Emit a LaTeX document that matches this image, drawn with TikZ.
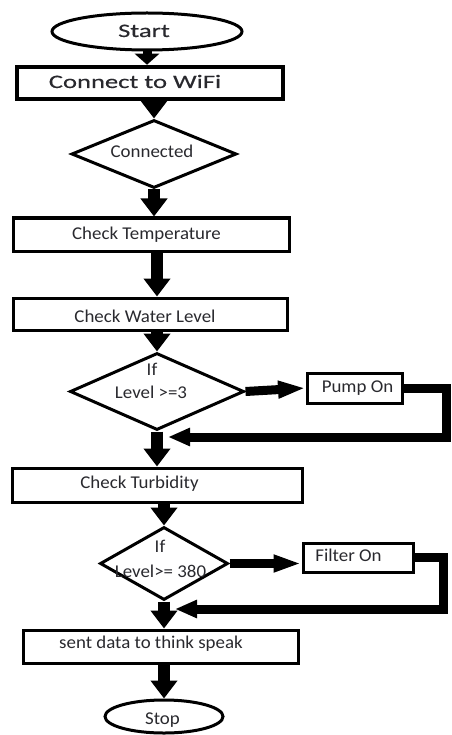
\documentclass[tikz,border=0pt]{standalone}
\usepackage{fontspec}
\setmainfont{Carlito}[FakeStretch=1.05]
\newfontfamily\headfont{Carlito}[FakeStretch=1.4,FakeBold=0.4]
\usetikzlibrary{shapes.geometric,arrows.meta}
\definecolor{ink}{rgb}{0.16,0.16,0.18}

\begin{document}
\begin{tikzpicture}[x=1pt,y=-1pt,
  proc/.style={draw, line width=3pt, rectangle, inner sep=0pt},
  term/.style={draw, line width=3pt, ellipse, inner sep=0pt},
  dec/.style={draw, line width=3pt, diamond, inner sep=0pt},
  txt/.style={inner sep=0pt, anchor=base, text=ink, font=\fontsize{18}{22}\selectfont},
  headtxt/.style={txt, font=\headfont\fontsize{19}{22}\selectfont},
  flow/.style={line width=12pt, -{Triangle[width=26pt,length=18pt]}},
  side/.style={line width=9pt, -{Triangle[width=16pt,length=28pt]}},
  back/.style={line width=9pt, -{Triangle[width=17pt,length=22pt]}},
]
\useasboundingbox (0,0) rectangle (451,735);

% boxes and shapes
\node[term, minimum width=190pt, minimum height=37pt] (start) at (147,31.5) {};
\node[proc, line width=4.5pt, minimum width=266pt, minimum height=32pt] (wifi) at (150,83) {};
\node[dec, minimum width=165pt, minimum height=68pt] (conn) at (154,154) {};
\node[proc, minimum width=276pt, minimum height=33pt] (temp) at (151,234.5) {};
\node[proc, minimum width=274pt, minimum height=32pt] (water) at (150,314) {};
\node[dec, minimum width=174pt, minimum height=77pt] (lvl) at (157,391.5) {};
\node[proc, minimum width=95pt, minimum height=30pt] (pump) at (355,388) {};
\node[proc, minimum width=290pt, minimum height=34pt] (turb) at (157,485) {};
\node[dec, minimum width=128pt, minimum height=73pt] (tlv) at (164,563.5) {};
\node[proc, minimum width=110pt, minimum height=29pt] (filter) at (358,557.5) {};
\node[proc, minimum width=275pt, minimum height=33pt] (send) at (160.5,646.5) {};
\node[term, minimum width=118pt, minimum height=33pt] (stop) at (164,716.5) {};

% labels
\node[headtxt] (start-t) at (144,37) {Start};
\node[headtxt] (wifi-t) at (135,88) {Connect to WiFi};
\node[txt] (conn-t) at (152,158) {Connected};
\node[txt] (temp-t) at (146.5,239) {Check Temperature};
\node[txt] (water-t) at (145,322) {Check Water Level};
\node[txt] (lvl-t1) at (152,375) {If};
\node[txt] (lvl-t2) at (151,398) {Level >=3};
\node[txt] (pump-t) at (357.5,392) {Pump On};
\node[txt] (turb-t) at (139.5,488) {Check Turbidity};
\node[txt] (tlv-t1) at (160,552) {If};
\node[txt] (tlv-t2) at (160.5,577) {Level>= 380};
\node[txt] (filter-t) at (348.5,561) {Filter On};
\node[txt] (send-t) at (151,648) {sent data to think speak};
\node[txt] (stop-t) at (162.5,724) {Stop};

% main flow
\draw[line width=9pt, -{Triangle[width=24pt,length=11pt]}] (start.south -| wifi.north) ++(-3,0) coordinate (s0) -- (s0 |- wifi.north);
\draw[flow] (wifi.south -| conn.north) -- (conn.north);
\draw[flow] (conn.south) -- (conn.south |- temp.north);
\draw[flow] (temp.south -| lvl.north) -- (lvl.north |- water.north);
\draw[flow] (water.south -| lvl.north) -- (lvl.north);
\draw[flow] (lvl.south) -- (lvl.south |- turb.north);
\draw[flow] (turb.south -| tlv.north) -- (tlv.north);
\draw[flow] (tlv.south) -- (tlv.south |- send.north);
\draw[flow] (send.south -| stop.north) -- (stop.north);

% branches
\draw[side] (lvl.east) -- (pump.west);
\coordinate (r1) at (446,437);
\coordinate (m1) at (168,437);
\draw[back] (pump.east) -| (r1) -- (m1);

\draw[side] (tlv.east) -- (tlv.east -| filter.west);
\coordinate (r2) at (443,609);
\coordinate (m2) at (175,609);
\draw[back] (filter.east) -| (r2) -- (m2);
\end{tikzpicture}
\end{document}
